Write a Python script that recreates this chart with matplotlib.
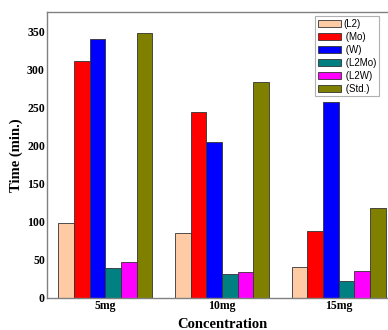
import matplotlib
matplotlib.use("Agg")
import matplotlib.pyplot as plt
import numpy as np

plt.rcParams.update({
    "font.family": "serif", "font.serif": ["Liberation Serif", "DejaVu Serif"],
    "font.weight": "bold", "axes.labelweight": "bold",
})

categories = ["5mg", "10mg", "15mg"]
series = ["(L2)", " (Mo)", " (W)", " (L2Mo)", " (L2W)", " (Std.)"]
L2 = [99, 85, 41]
Mo = [312, 245, 88]
W = [341, 205, 258]
L2Mo = [39, 32, 22]
L2W = [47, 34, 36]
Std = [348, 284, 118]
values = [L2, Mo, W, L2Mo, L2W, Std]
colors = ["#FFCBA4", "#FF0000", "#0000FF", "#008080", "#FF00FF", "#808000"]

W_px, H_px = 388, 330
fig = plt.figure(figsize=(W_px / 100, H_px / 100), dpi=100)
# axes extends past the right edge (reference is cropped)
ax = fig.add_axes([47 / W_px, (H_px - 298) / H_px, (397 - 47) / W_px, (298 - 12) / H_px])

x = np.arange(len(categories))
bw = 0.134
for i, (vals, lab, c) in enumerate(zip(values, series, colors)):
    ax.bar(x + (i - 2.5) * bw, vals, bw, color=c, edgecolor="#333333",
           linewidth=0.6, label=lab)

ax.set_xlim(-0.5, 2.5)
ax.set_ylim(0, 376)
ax.set_yticks(np.arange(0, 351, 50))
ax.set_xticks(x)
ax.set_xticklabels(categories)
ax.tick_params(length=0, labelsize=8.5, pad=1.5)
for s in ax.spines.values():
    s.set_color("#808080")
    s.set_linewidth(1.0)

ax.set_xlabel("Concentration", fontsize=10.5, labelpad=4)
ax.set_ylabel("Time (min.)", fontsize=10.5, labelpad=3)

leg = ax.legend(loc="upper left", bbox_to_anchor=(315 / W_px, 1 - 16 / H_px),
                bbox_transform=fig.transFigure, fancybox=False, framealpha=1,
                edgecolor="#b0b0b0", prop={"family": "Liberation Sans", "size": 7, "weight": "normal"},
                handlelength=2.4, handleheight=0.7, labelspacing=0.3,
                handletextpad=0.2, borderpad=0.3, borderaxespad=0)
leg.get_frame().set_linewidth(0.8)

fig.savefig("out.png", dpi=100)
